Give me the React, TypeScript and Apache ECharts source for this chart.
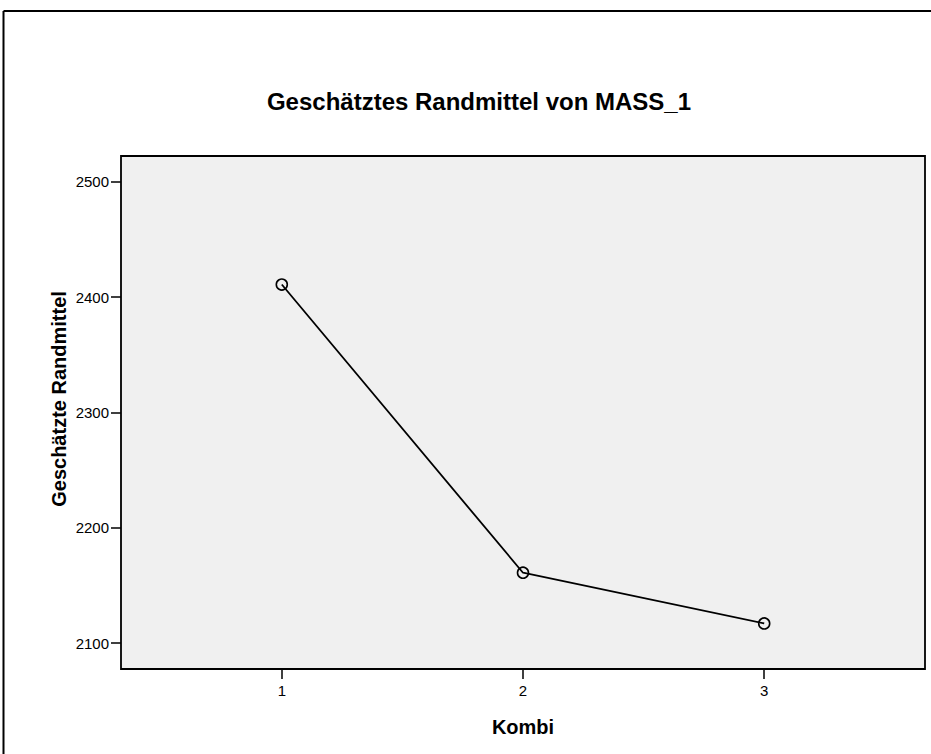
import React, { useEffect, useRef } from "react";
import * as echarts from "echarts";

const categories = [1, 2, 3];
const meanValues = [2411, 2161, 2117];
const yTicks = [2100, 2200, 2300, 2400, 2500];

const titleText = "Geschätztes Randmittel von MASS_1";
const xTitle = "Kombi";
const yTitle = "Geschätzte Randmittel";

export default function App() {
  const ref = useRef<HTMLDivElement>(null);
  useEffect(() => {
    if (!ref.current) return;
    const chart = echarts.init(ref.current, null, { renderer: "svg" });
    const font = "Liberation Sans, Arial, sans-serif";
    chart.setOption({
      animation: false,
      backgroundColor: "#ffffff",
      grid: { left: 121, top: 156, width: 804, height: 513, show: true, backgroundColor: "#f0f0f0", borderColor: "#000", borderWidth: 1.8 },
      graphic: [
        { type: "line", shape: { x1: 3.5, y1: 11, x2: 1000, y2: 11 }, style: { stroke: "#000", lineWidth: 2 } },
        { type: "line", shape: { x1: 3.5, y1: 11, x2: 3.5, y2: 800 }, style: { stroke: "#000", lineWidth: 2 } },
        {
          type: "text",
          x: 479,
          y: 101,
          style: { text: titleText, fill: "#000", font: `bold 24px ${font}`, textAlign: "center", textVerticalAlign: "middle" },
        },
        {
          type: "text",
          x: 59,
          y: 399,
          rotation: Math.PI / 2,
          style: { text: yTitle, fill: "#000", font: `bold 20px ${font}`, textAlign: "center", textVerticalAlign: "middle" },
        },
      ],
      xAxis: {
        type: "value",
        min: 1 / 3,
        max: 11 / 3,
        name: xTitle,
        nameLocation: "middle",
        nameGap: 48,
        nameTextStyle: { fontFamily: font, fontWeight: "bold", fontSize: 20, color: "#000" },
        axisLine: { show: false },
        axisTick: { show: true, length: 10, customValues: categories, lineStyle: { color: "#000", width: 1.5 } },
        axisLabel: { customValues: categories, formatter: (v: number) => String(v), fontFamily: font, fontSize: 15, color: "#000", margin: 14 },
        splitLine: { show: false },
      },
      yAxis: {
        type: "value",
        min: 2077.5,
        max: 2522.5,
        axisLine: { show: false },
        axisTick: { show: true, length: 10, customValues: yTicks, lineStyle: { color: "#000", width: 1.5 } },
        axisLabel: { customValues: yTicks, formatter: (v: number) => String(v), fontFamily: font, fontSize: 15, color: "#000", margin: 12 },
        splitLine: { show: false },
      },
      series: [
        {
          type: "line",
          data: categories.map((c, i) => [c, meanValues[i]]),
          lineStyle: { color: "#000", width: 1.8 },
          symbol: "circle",
          symbolSize: 11,
          itemStyle: { color: "rgba(0,0,0,0)", borderColor: "#000", borderWidth: 1.6 },
        },
      ],
    });
    return () => chart.dispose();
  }, []);
  return <div ref={ref} style={{ position: "fixed", left: 0, top: 0, width: 931, height: 754 }} />;
}
